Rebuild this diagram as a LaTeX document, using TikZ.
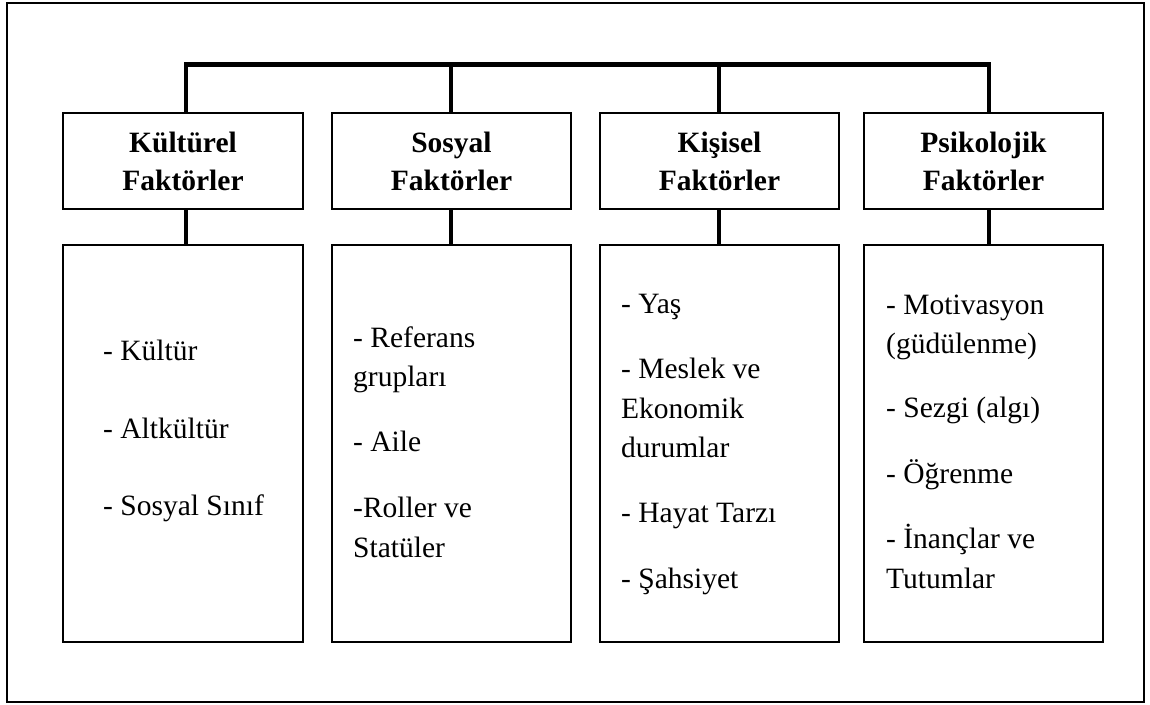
\documentclass[tikz,border=0pt]{standalone}
\usepackage{fontspec}
\setmainfont{Liberation Serif}
\begin{document}
\begin{tikzpicture}[x=1pt,y=-1pt,
  frame/.style={line width=2.2pt},
  headbox/.style={draw, line width=1.6pt, minimum height=96pt, inner sep=0pt,
    align=center, font=\fontsize{29.5}{38}\selectfont\bfseries},
  listbox/.style={draw, line width=1.6pt, minimum height=397pt, inner sep=0pt},
  bar/.style={line width=5pt},
  link/.style={line width=3.5pt},
  entry/.style={anchor=base west, inner sep=0pt, font=\fontsize{29.5}{39.5}\selectfont}]
\useasboundingbox (0,0) rectangle (1150,704);
% outer frame
\draw[frame] (7,3) rectangle (1144,702);

% factor headings
\node[headbox, minimum width=240pt] (h1) at (183,161)   {Kültürel\\Faktörler};
\node[headbox, minimum width=239pt] (h2) at (451.5,161) {Sosyal\\Faktörler};
\node[headbox, minimum width=239pt] (h3) at (719.5,161) {Kişisel\\Faktörler};
\node[headbox, minimum width=239pt] (h4) at (983.5,161) {Psikolojik\\Faktörler};

% item lists
\node[listbox, minimum width=240pt] (l1) at (183,443.5)   {};
\node[listbox, minimum width=239pt] (l2) at (451.5,443.5) {};
\node[listbox, minimum width=239pt] (l3) at (719.5,443.5) {};
\node[listbox, minimum width=239pt] (l4) at (983.5,443.5) {};

% top bus and drops
\coordinate (b1) at (186,64.5);
\coordinate (b2) at (451,64.5);
\coordinate (b3) at (719,64.5);
\coordinate (b4) at (989,64.5);
\draw[bar] ([xshift=-1.75pt]b1) -- ([xshift=1.75pt]b4);
\foreach \i in {1,2,3,4}{
  \draw[link] (b\i) -- (b\i |- h\i.north);
  \draw[link] (h\i.south -| b\i) -- (l\i.north -| b\i);
}

% Kültürel
\node[entry] (k1) at (103,360) {- Kültür};
\node[entry] (k2) at (103,438) {- Altkültür};
\node[entry] (k3) at (103,515) {- Sosyal Sınıf};

% Sosyal
\node[entry] (s1) at (353,347) {- Referans};
\node[entry] (s2) at (353,386) {grupları};
\node[entry] (s3) at (353,451) {- Aile};
\node[entry] (s4) at (353,517) {-Roller ve};
\node[entry] (s5) at (353,557) {Statüler};

% Kişisel
\node[entry] (p1) at (621,313) {- Yaş};
\node[entry] (p2) at (621,378) {- Meslek ve};
\node[entry] (p3) at (621,418) {Ekonomik};
\node[entry] (p4) at (621,457) {durumlar};
\node[entry] (p5) at (621,522) {- Hayat Tarzı};
\node[entry] (p6) at (621,588) {- Şahsiyet};

% Psikolojik
\node[entry] (q1) at (886,314) {- Motivasyon};
\node[entry] (q2) at (886,353) {(güdülenme)};
\node[entry] (q3) at (886,417) {- Sezgi (algı)};
\node[entry] (q4) at (886,483) {- Öğrenme};
\node[entry] (q5) at (886,548) {- İnançlar ve};
\node[entry] (q6) at (886,588) {Tutumlar};
\end{tikzpicture}
\end{document}
